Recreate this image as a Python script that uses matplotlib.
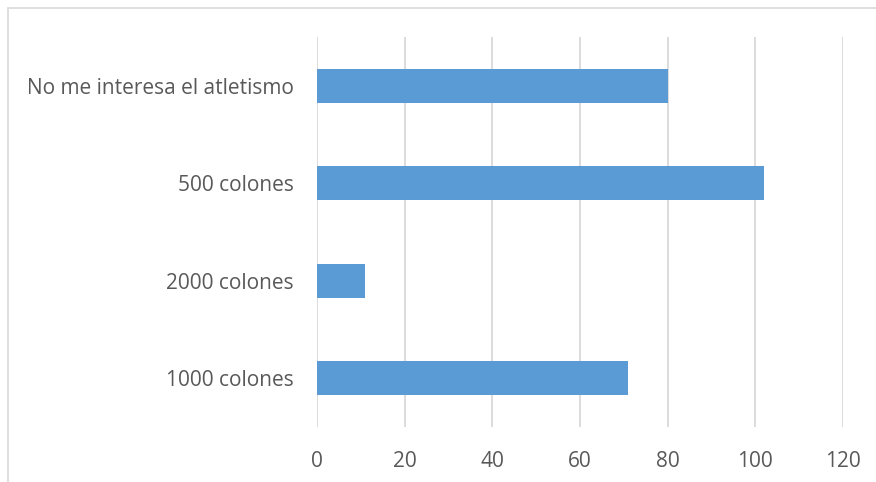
import matplotlib.pyplot as plt
from matplotlib.patches import Rectangle

# ---------------- DATA ----------------
categories = ["1000 colones", "2000 colones", "500 colones", "No me interesa el atletismo"]
values = [71, 11, 102, 80]
x_ticks = [0, 20, 40, 60, 80, 100, 120]

BAR_COLOR = "#5B9BD5"
TEXT_COLOR = "#595959"
GRID_COLOR = "#D9D9D9"

plt.rcParams["font.family"] = ["Open Sans", "DejaVu Sans"]

W, H = 876, 482
fig = plt.figure(figsize=(W / 100, H / 100), dpi=100)
ax = fig.add_axes([317 / W, 1 - 427 / H, 526 / W, 390 / H])

ax.barh(range(len(categories)), values, height=0.35, color=BAR_COLOR, zorder=3)

ax.set_xlim(0, 120)
ax.set_ylim(-0.5, len(categories) - 0.5)
ax.set_xticks(x_ticks)
ax.set_yticks(range(len(categories)))
ax.set_yticklabels(categories)

ax.grid(axis="x", color=GRID_COLOR, linewidth=1.3, zorder=0)
for side in ["top", "right", "bottom", "left"]:
    ax.spines[side].set_visible(False)
ax.tick_params(axis="both", length=0, labelsize=15, colors=TEXT_COLOR)
ax.tick_params(axis="x", pad=17)
ax.tick_params(axis="y", pad=16.5)

# chart frame, cut at the right and bottom edges
fig.patches.append(Rectangle((8 / W, -0.1), 1.1, 1 - 8 / H + 0.1,
                             transform=fig.transFigure, fill=False,
                             edgecolor=GRID_COLOR, linewidth=1.2))

fig.savefig("out.png", dpi=100)
